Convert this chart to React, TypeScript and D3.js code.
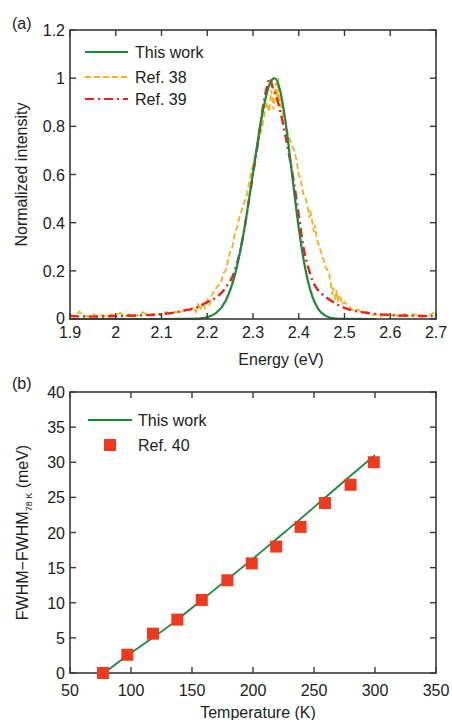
import React from "react";
import * as d3 from "d3";

// ---------- Panel (a) data ----------
const thisWorkSpectrum: [number, number][] = [
  [1.9, 0], [2.0, 0], [2.1, 0], [2.15, 0.0002], [2.18, 0.0018], [2.2, 0.0075],
  [2.22, 0.026], [2.24, 0.075], [2.26, 0.18], [2.28, 0.362], [2.3, 0.607],
  [2.32, 0.848], [2.335, 0.968], [2.347, 1.0], [2.36, 0.943], [2.37, 0.833],
  [2.38, 0.686], [2.39, 0.527], [2.4, 0.378], [2.41, 0.253], [2.42, 0.158],
  [2.43, 0.092], [2.44, 0.05], [2.46, 0.012], [2.48, 0.002], [2.5, 0.0003], [2.57, 0],
];

const ref38Spectrum: [number, number][] = [
  [1.9, 0.02], [1.91, 0.01], [1.92, 0.03], [1.93, 0.015], [1.94, 0.01], [1.95, 0.02],
  [1.96, 0.012], [1.97, 0.018], [1.98, 0.01], [1.99, 0.02], [2.0, 0.015], [2.01, 0.025],
  [2.02, 0.012], [2.03, 0.02], [2.04, 0.01], [2.05, 0.018], [2.06, 0.028], [2.07, 0.015],
  [2.08, 0.02], [2.09, 0.025], [2.1, 0.012], [2.11, 0.03], [2.12, 0.02], [2.13, 0.03],
  [2.14, 0.025], [2.15, 0.04], [2.16, 0.035], [2.17, 0.05], [2.175, 0.03], [2.18, 0.06],
  [2.185, 0.035], [2.19, 0.07], [2.195, 0.045], [2.2, 0.08], [2.205, 0.06], [2.21, 0.1],
  [2.22, 0.13], [2.23, 0.15], [2.235, 0.19], [2.24, 0.2], [2.245, 0.24], [2.25, 0.28],
  [2.255, 0.3], [2.26, 0.35], [2.265, 0.38], [2.27, 0.42], [2.275, 0.45], [2.28, 0.48],
  [2.285, 0.5], [2.29, 0.55], [2.295, 0.6], [2.3, 0.64], [2.305, 0.68], [2.31, 0.72],
  [2.315, 0.76], [2.32, 0.8], [2.325, 0.85], [2.33, 0.9], [2.335, 0.86], [2.34, 0.95],
  [2.345, 0.87], [2.35, 0.98], [2.353, 0.9], [2.355, 1.0], [2.358, 0.88], [2.36, 0.92],
  [2.365, 0.85], [2.37, 0.83], [2.375, 0.78], [2.38, 0.75], [2.385, 0.72], [2.39, 0.7],
  [2.395, 0.66], [2.4, 0.6], [2.405, 0.57], [2.41, 0.52], [2.415, 0.5], [2.42, 0.46],
  [2.423, 0.42], [2.425, 0.45], [2.43, 0.4], [2.433, 0.36], [2.435, 0.39], [2.44, 0.33],
  [2.445, 0.3], [2.45, 0.27], [2.455, 0.24], [2.46, 0.21], [2.465, 0.2], [2.47, 0.15],
  [2.473, 0.1], [2.475, 0.13], [2.48, 0.08], [2.483, 0.12], [2.485, 0.07], [2.49, 0.1],
  [2.495, 0.06], [2.5, 0.07], [2.51, 0.05], [2.52, 0.035], [2.53, 0.04], [2.54, 0.025],
  [2.55, 0.03], [2.56, 0.015], [2.57, 0.02], [2.58, 0.01], [2.59, 0.025], [2.6, 0.015],
  [2.61, 0.02], [2.62, 0.01], [2.63, 0.022], [2.64, 0.012], [2.65, 0.02], [2.66, 0.015],
  [2.67, 0.01], [2.68, 0.015], [2.69, 0.02], [2.7, 0.035],
];

const ref39Spectrum: [number, number][] = [
  [1.9, 0.012], [1.95, 0.01], [2.0, 0.012], [2.05, 0.015], [2.1, 0.02], [2.15, 0.035],
  [2.18, 0.05], [2.2, 0.07], [2.22, 0.09], [2.24, 0.13], [2.26, 0.2], [2.28, 0.36],
  [2.29, 0.48], [2.3, 0.6], [2.31, 0.72], [2.32, 0.86], [2.33, 0.96], [2.337, 1.0],
  [2.343, 0.96], [2.35, 0.93], [2.36, 0.86], [2.37, 0.77], [2.38, 0.67], [2.39, 0.56],
  [2.4, 0.43], [2.41, 0.3], [2.42, 0.22], [2.43, 0.16], [2.44, 0.125], [2.45, 0.105],
  [2.46, 0.09], [2.48, 0.065], [2.5, 0.046], [2.55, 0.025], [2.6, 0.016], [2.65, 0.013],
  [2.7, 0.012],
];

const energyTicks = [1.9, 2.0, 2.1, 2.2, 2.3, 2.4, 2.5, 2.6, 2.7];
const energyTickLabels = ["1.9", "2", "2.1", "2.2", "2.3", "2.4", "2.5", "2.6", "2.7"];
const intensityTicks = [0, 0.2, 0.4, 0.6, 0.8, 1.0, 1.2];
const intensityTickLabels = ["0", "0.2", "0.4", "0.6", "0.8", "1", "1.2"];

// ---------- Panel (b) data ----------
const ref40Temperature = [77, 97, 118, 138, 158, 179, 199, 219, 239, 259, 280, 299];
const ref40Width = [0, 2.6, 5.6, 7.6, 10.4, 13.2, 15.6, 18.0, 20.8, 24.2, 26.8, 30.0];
const thisWorkTemperature = [78, 97, 117, 138, 158, 178, 198, 218, 238, 258, 278, 300];
const thisWorkWidth = [0, 2.5, 4.9, 7.6, 10.4, 13.2, 16.0, 18.9, 21.8, 24.8, 27.8, 31.0];

const tempTicks = [50, 100, 150, 200, 250, 300, 350];
const widthTicks = [0, 5, 10, 15, 20, 25, 30, 35, 40];

const FONT = "'Liberation Sans', Arial, Helvetica, sans-serif";
const AXIS = "#3a3a3a";
const GREEN = "#1b8a3a";
const ORANGE = "#fbb01a";
const RED = "#ee1f1f";
const SQUARE = "#ef3a20";

export default function App() {
  const left = 70, right = 436;
  // Panel (a)
  const aTop = 30, aBottom = 319;
  const xa = d3.scaleLinear().domain([1.9, 2.7]).range([left, right]);
  const ya = d3.scaleLinear().domain([0, 1.2]).range([aBottom, aTop]);
  const lineA = d3.line<[number, number]>().x(d => xa(d[0])).y(d => ya(d[1]));
  const smoothA = d3.line<[number, number]>().x(d => xa(d[0])).y(d => ya(d[1])).curve(d3.curveMonotoneX);

  // Panel (b)
  const bTop = 392, bBottom = 673;
  const xb = d3.scaleLinear().domain([50, 350]).range([left, right]);
  const yb = d3.scaleLinear().domain([0, 40]).range([bBottom, bTop]);
  const lineB = d3.line<number>().x((_, i) => xb(thisWorkTemperature[i])).y(d => yb(d)).curve(d3.curveMonotoneX);

  const tick = 6;
  const fs = 16;

  return (
    <svg width={452} height={720} style={{ position: "absolute", left: 0, top: 0 }} fontFamily={FONT}>
      <rect width={452} height={720} fill="#fff" />
      {/* ===== Panel (a) ===== */}
      <text x={12} y={29} fontSize={fs} fill="#222">(a)</text>
      <defs>
        <clipPath id="clipA"><rect x={left} y={aTop} width={right - left} height={aBottom - aTop + 2} /></clipPath>
      </defs>
      <g clipPath="url(#clipA)">
        <path d={lineA(ref38Spectrum) || ""} fill="none" stroke={ORANGE} strokeWidth={1.8} strokeDasharray="6 3" />
        <path d={smoothA(ref39Spectrum) || ""} fill="none" stroke={RED} strokeWidth={2.4} strokeDasharray="9 4 2 4" />
        <path d={smoothA(thisWorkSpectrum) || ""} fill="none" stroke={GREEN} strokeWidth={2.2} />
      </g>
      {/* frame */}
      <rect x={left} y={aTop} width={right - left} height={aBottom - aTop} fill="none" stroke={AXIS} strokeWidth={1.6} />
      {energyTicks.map((t, i) => (
        <g key={"ea" + i}>
          <line x1={xa(t)} x2={xa(t)} y1={aBottom} y2={aBottom - tick} stroke={AXIS} strokeWidth={1.4} />
          <line x1={xa(t)} x2={xa(t)} y1={aTop} y2={aTop + tick} stroke={AXIS} strokeWidth={1.4} />
          <text x={xa(t)} y={aBottom + 19} fontSize={fs} textAnchor="middle" fill="#222">{energyTickLabels[i]}</text>
        </g>
      ))}
      {intensityTicks.map((t, i) => (
        <g key={"ia" + i}>
          <line x1={left} x2={left + tick} y1={ya(t)} y2={ya(t)} stroke={AXIS} strokeWidth={1.4} />
          <line x1={right} x2={right - tick} y1={ya(t)} y2={ya(t)} stroke={AXIS} strokeWidth={1.4} />
          <text x={left - 5} y={ya(t) + (t === 0 ? 5 : 6)} fontSize={fs} textAnchor="end" fill="#222">{intensityTickLabels[i]}</text>
        </g>
      ))}
      <text x={281} y={365} fontSize={fs} textAnchor="middle" fill="#222">Energy (eV)</text>
      <text transform={`translate(27,${(aTop + aBottom) / 2}) rotate(-90)`} fontSize={fs} textAnchor="middle" fill="#222">Normalized intensity</text>
      {/* legend a */}
      <line x1={85} x2={128} y1={52} y2={52} stroke={GREEN} strokeWidth={2} />
      <text x={135} y={58} fontSize={fs} fill="#222">This work</text>
      <line x1={85} x2={128} y1={77} y2={77} stroke={ORANGE} strokeWidth={1.8} strokeDasharray="6 3" />
      <text x={135} y={83} fontSize={fs} fill="#222">Ref. 38</text>
      <line x1={85} x2={128} y1={99} y2={99} stroke={RED} strokeWidth={2.2} strokeDasharray="9 4 2 4" />
      <text x={135} y={105} fontSize={fs} fill="#222">Ref. 39</text>

      {/* ===== Panel (b) ===== */}
      <text x={12} y={389} fontSize={fs} fill="#222">(b)</text>
      <rect x={left} y={bTop} width={right - left} height={bBottom - bTop} fill="none" stroke={AXIS} strokeWidth={1.6} />
      {tempTicks.map((t, i) => (
        <g key={"tb" + i}>
          <line x1={xb(t)} x2={xb(t)} y1={bBottom} y2={bBottom - tick} stroke={AXIS} strokeWidth={1.4} />
          <line x1={xb(t)} x2={xb(t)} y1={bTop} y2={bTop + tick} stroke={AXIS} strokeWidth={1.4} />
          <text x={xb(t)} y={bBottom + 23} fontSize={fs} textAnchor="middle" fill="#222">{String(t)}</text>
        </g>
      ))}
      {widthTicks.map((t, i) => (
        <g key={"wb" + i}>
          <line x1={left} x2={left + tick} y1={yb(t)} y2={yb(t)} stroke={AXIS} strokeWidth={1.4} />
          <line x1={right} x2={right - tick} y1={yb(t)} y2={yb(t)} stroke={AXIS} strokeWidth={1.4} />
          <text x={left - 5} y={yb(t) + 6} fontSize={fs} textAnchor="end" fill="#222">{String(t)}</text>
        </g>
      ))}
      <path d={lineB(thisWorkWidth) || ""} fill="none" stroke={GREEN} strokeWidth={1.8} />
      {ref40Width.map((v, i) => (
        <rect key={"sq" + i} x={xb(ref40Temperature[i]) - 6} y={yb(v) - 6} width={12} height={12} fill={SQUARE} />
      ))}
      <text x={258} y={718} fontSize={fs} textAnchor="middle" fill="#222">Temperature (K)</text>
      <text transform={`translate(28,${(bTop + bBottom) / 2}) rotate(-90)`} fontSize={fs} textAnchor="middle" fill="#222">
        FWHM−FWHM<tspan fontSize={9} dy={4}>78 K</tspan><tspan dy={-4}> (meV)</tspan>
      </text>
      {/* legend b */}
      <line x1={88} x2={132} y1={420} y2={420} stroke={GREEN} strokeWidth={1.8} />
      <text x={138} y={426} fontSize={fs} fill="#222">This work</text>
      <rect x={104} y={439} width={12} height={12} fill={SQUARE} />
      <text x={138} y={451} fontSize={fs} fill="#222">Ref. 40</text>
    </svg>
  );
}
